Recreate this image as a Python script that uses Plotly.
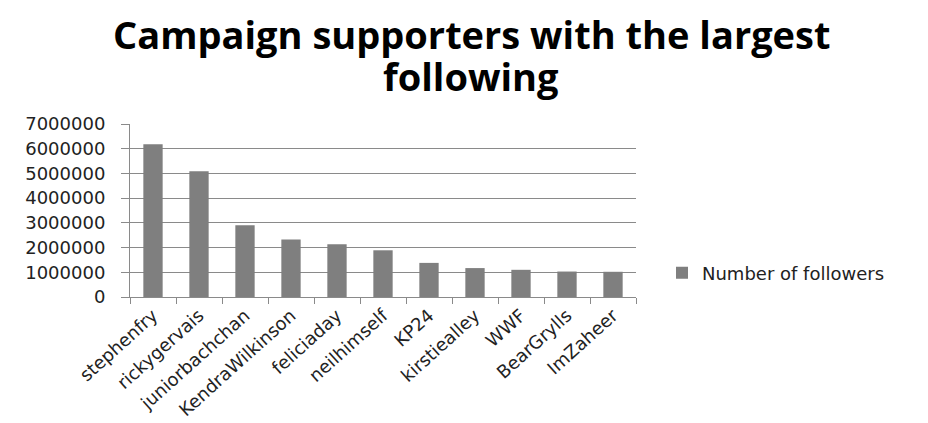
import plotly.graph_objects as go

categories = ["stephenfry", "rickygervais", "juniorbachchan", "KendraWilkinson",
              "feliciaday", "neilhimself", "KP24", "kirstiealley", "WWF",
              "BearGrylls", "ImZaheer"]
followers = [6180000, 5090000, 2900000, 2330000, 2130000, 1890000,
             1380000, 1170000, 1100000, 1030000, 1020000]
series_name = "Number of followers"
title_lines = ["Campaign supporters with the largest", "following"]

OFF = 8  # page body offset seen in the screenshot
W, H = 928, 423
L, T = 130 - OFF, 124 - OFF
plot_w, plot_h = 506, 173
R = W - L - plot_w
B = H - T - plot_h


def py(screen_y):
    return (H - B - (screen_y - OFF)) / plot_h


def px(screen_x):
    return (screen_x - OFF - L) / plot_w


fig = go.Figure()
fig.add_trace(go.Bar(x=categories, y=followers, name=series_name,
                     marker=dict(color="#7f7f7f", line=dict(width=0))))

title_font = dict(family="Open Sans", size=38, color="black", weight="bold")
for text, ypix in zip(title_lines, [34, 76]):
    fig.add_annotation(text=text, xref="paper", yref="paper",
                       x=px(471), y=py(ypix),
                       xanchor="center", yanchor="middle",
                       showarrow=False, font=title_font)

fig.update_layout(
    width=W, height=H,
    paper_bgcolor="white", plot_bgcolor="white",
    margin=dict(l=L, r=R, t=T, b=B, autoexpand=False),
    bargap=0.58,
    showlegend=True,
    legend=dict(x=px(662), y=py(273), xanchor="left", yanchor="middle",
                font=dict(family="DejaVu Sans", size=18, color="#222"),
                itemwidth=30),
    font=dict(family="DejaVu Sans", color="#222"),
)
fig.update_yaxes(range=[0, 7000000], dtick=1000000, tickformat="d",
                 showgrid=True, gridcolor="#8a8a8a", gridwidth=1,
                 showline=True, linecolor="#8a8a8a", zeroline=False,
                 ticks="outside", ticklen=8, tickcolor="#8a8a8a", automargin=False,
                 ticklabelstandoff=12,
                 tickfont=dict(family="DejaVu Sans", size=18, color="#222"))
fig.update_xaxes(showline=True, linecolor="#8a8a8a", tickangle=-42,
                 ticks="outside", tickson="boundaries", ticklen=6, tickcolor="#8a8a8a",
                 automargin=False,
                 tickfont=dict(family="DejaVu Sans", size=18, color="#222"))

fig.write_html("out.html")
